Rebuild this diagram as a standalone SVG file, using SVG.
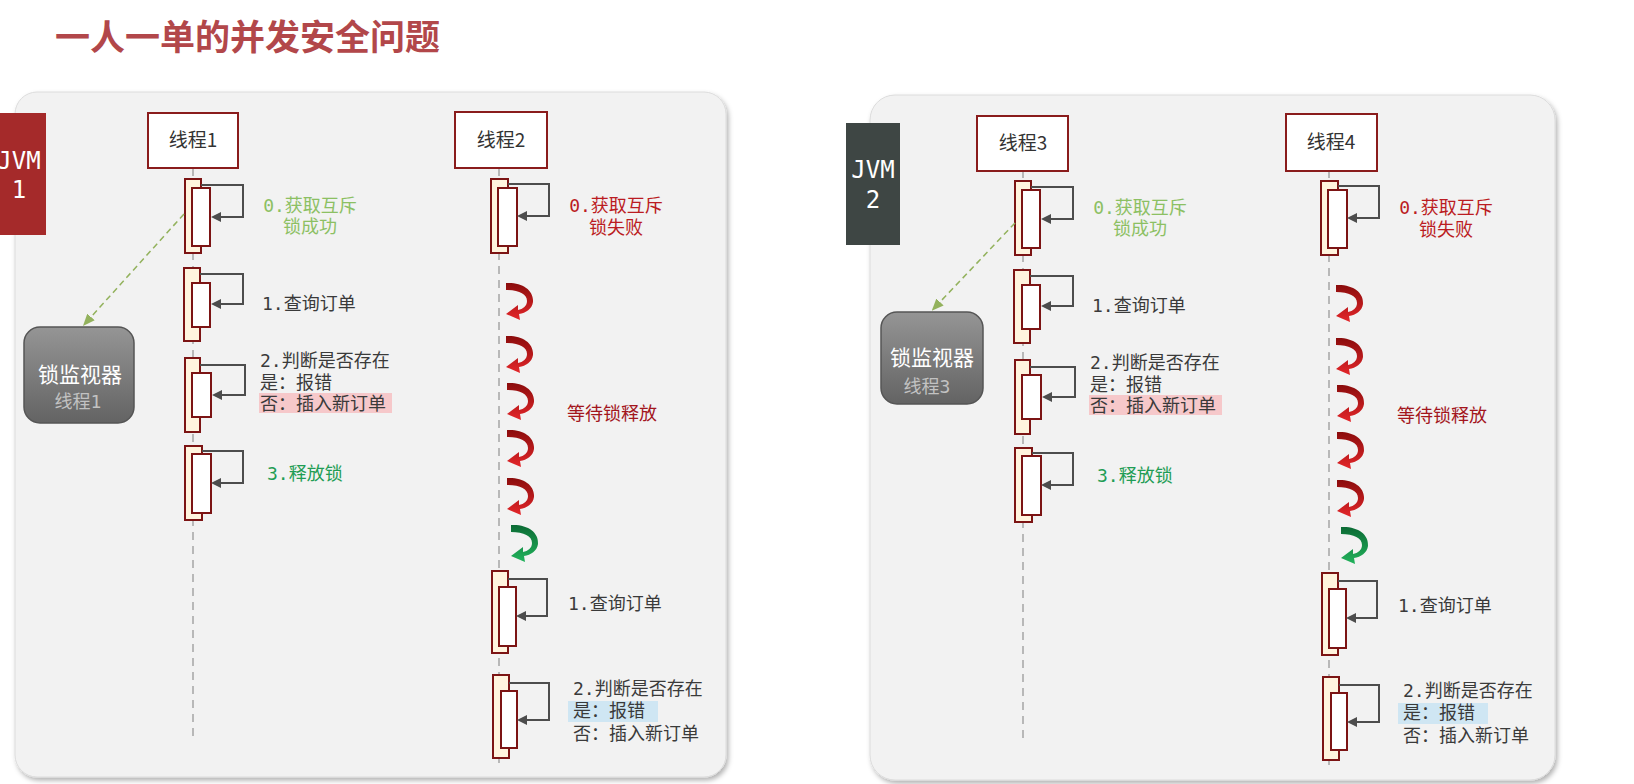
<svg xmlns="http://www.w3.org/2000/svg" width="1634" height="784" viewBox="0 0 1634 784">
<defs>
<style>
.panel{fill:#f2f2f2;stroke:#dcdcdc;stroke-width:1}
.tbox{fill:#fff;stroke:#8a1c1c;stroke-width:2}
.tname{font-family:"Noto Sans CJK SC","Noto Sans",sans-serif;font-size:19px;fill:#333;text-anchor:middle}
.life{stroke:#b8b8b8;stroke-width:2;stroke-dasharray:8 6;fill:none}
.ao{fill:#fff4de;stroke:#7c1414;stroke-width:2}
.ai{fill:#fff;stroke:#7c1414;stroke-width:2}
.self{fill:none;stroke:#4d4d4d;stroke-width:2;marker-end:url(#ah)}
.dash{fill:none;stroke:#93b25d;stroke-width:1.5;stroke-dasharray:6 4;marker-end:url(#gah)}
.lbl{font-family:"DejaVu Sans Mono","Noto Sans CJK SC",monospace;font-size:18px;fill:#3a3a3a}
.ok{fill:#8cc063}
.fail{fill:#bb1c22}
.wait{fill:#a3161d}
.rel{fill:#1f9d55}
.mid{text-anchor:middle}
.jvm{font-family:"DejaVu Sans Mono",monospace;font-size:24px;fill:#fff;text-anchor:middle}
.mon{fill:url(#gMon);stroke:#555;stroke-width:1.5}
.monT{font-family:"Noto Sans CJK SC",sans-serif;font-size:21px;fill:#fff;text-anchor:middle}
.monS{font-family:"DejaVu Sans Mono","Noto Sans CJK SC",monospace;font-size:18px;fill:#c2c2c2;text-anchor:middle}
.hlR{fill:#f6c8ca}
.hlB{fill:#cfe6f3}
.title{font-family:"Noto Sans CJK SC",sans-serif;font-size:35px;font-weight:700;fill:#b2474a}
</style>
<marker id="ah" viewBox="0 0 10 10" refX="0" refY="5" markerWidth="10" markerHeight="10" markerUnits="userSpaceOnUse" orient="auto"><path d="M0,0 L10,5 L0,10 z" fill="#4d4d4d"/></marker>
<marker id="gah" viewBox="0 0 12 10" refX="0" refY="5" markerWidth="12" markerHeight="10" markerUnits="userSpaceOnUse" orient="auto"><path d="M0,0 L12,5 L0,10 z" fill="#93b25d"/></marker>
<linearGradient id="gMon" x1="0" y1="0" x2="0" y2="1"><stop offset="0" stop-color="#959595"/><stop offset="1" stop-color="#636363"/></linearGradient>
<linearGradient id="gRed" x1="0" y1="0" x2="0" y2="1"><stop offset="0" stop-color="#8a0c0c"/><stop offset="1" stop-color="#e4262a"/></linearGradient>
<linearGradient id="gGreen" x1="0" y1="0" x2="0" y2="1"><stop offset="0" stop-color="#0b6a34"/><stop offset="1" stop-color="#22b35c"/></linearGradient>
<path id="curlR" fill="url(#gRed)" d="M0,0 C16,-1 28,7 27,19 C26,26 20,30 13,31 L14,37 L0,31 L12,22 L12,27 C17,26 21,23 21,18 C21,11 13,7 0,7 Z"/>
<path id="curlG" fill="url(#gGreen)" d="M0,0 C16,-1 28,7 27,19 C26,26 20,30 13,31 L14,37 L0,31 L12,22 L12,27 C17,26 21,23 21,18 C21,11 13,7 0,7 Z"/>
<filter id="shadow" x="-5%" y="-5%" width="110%" height="110%"><feDropShadow dx="2" dy="3" stdDeviation="2.5" flood-color="#000" flood-opacity="0.3"/></filter>
</defs>
<rect width="1634" height="784" fill="#fff"/>
<text class="title" x="55" y="50">一人一单的并发安全问题</text>

<rect id="panel-left" class="panel" x="15" y="92" width="711" height="685" rx="22" filter="url(#shadow)"/>
<rect id="panel-right" class="panel" x="870" y="95" width="685" height="685" rx="25" filter="url(#shadow)"/>

<g id="jvm1">
<rect x="-8" y="113" width="54" height="122" fill="#a52a2a"/>
<text class="jvm" x="19" y="169">JVM</text>
<text class="jvm" x="19" y="198">1</text>
</g>
<g id="jvm2">
<rect x="846" y="123" width="54" height="122" fill="#3e4644"/>
<text class="jvm" x="873" y="178">JVM</text>
<text class="jvm" x="873" y="208">2</text>
</g>

<g id="monitor1">
<rect class="mon" x="24" y="327" width="110" height="96" rx="16"/>
<text class="monT" x="80" y="382">锁监视器</text>
<text class="monS" x="78" y="408">线程1</text>
</g>
<g id="monitor2">
<rect class="mon" x="881" y="312" width="102" height="92" rx="16"/>
<text class="monT" x="932" y="365">锁监视器</text>
<text class="monS" x="927" y="393">线程3</text>
</g>

<g id="thread1">
<line class="life" x1="193" y1="168" x2="193" y2="740"/>
<rect class="tbox" x="148" y="113" width="90" height="55"/>
<text class="tname" x="193" y="147">线程1</text>
<rect class="ao" x="185" y="179" width="16" height="74"/><rect class="ai" x="192" y="188" width="18" height="58"/>
<rect class="ao" x="184" y="268" width="16" height="73"/><rect class="ai" x="192" y="283" width="18" height="44"/>
<rect class="ao" x="185" y="358" width="15" height="74"/><rect class="ai" x="192" y="373" width="19" height="44"/>
<rect class="ao" x="185" y="446" width="17" height="74"/><rect class="ai" x="192" y="454" width="19" height="59"/>
</g>
<g id="thread2">
<line class="life" x1="499" y1="168" x2="499" y2="763"/>
<rect class="tbox" x="455" y="112" width="92" height="56"/>
<text class="tname" x="501" y="147">线程2</text>
<rect class="ao" x="491" y="179" width="17" height="74"/><rect class="ai" x="498" y="188" width="19" height="58"/>
<use href="#curlR" x="506" y="283"/>
<use href="#curlR" x="506" y="336"/>
<use href="#curlR" x="507" y="383"/>
<use href="#curlR" x="507" y="430"/>
<use href="#curlR" x="507" y="478"/>
<use href="#curlG" x="511" y="525"/>
<rect class="ao" x="492" y="571" width="16" height="82"/><rect class="ai" x="499" y="587" width="17" height="59"/>
<rect class="ao" x="493" y="675" width="16" height="83"/><rect class="ai" x="501" y="691" width="16" height="57"/>
</g>

<g id="thread3" transform="translate(830,2)">
<line class="life" x1="193" y1="168" x2="193" y2="740"/>
<rect class="tbox" x="147" y="114" width="91" height="55"/>
<text class="tname" x="193" y="148">线程3</text>
<rect class="ao" x="185" y="179" width="16" height="74"/><rect class="ai" x="192" y="188" width="18" height="58"/>
<rect class="ao" x="184" y="268" width="16" height="73"/><rect class="ai" x="192" y="283" width="18" height="44"/>
<rect class="ao" x="185" y="358" width="15" height="74"/><rect class="ai" x="192" y="373" width="19" height="44"/>
<rect class="ao" x="185" y="446" width="17" height="74"/><rect class="ai" x="192" y="454" width="19" height="59"/>
</g>
<g id="thread4" transform="translate(830,2)">
<line class="life" x1="499" y1="168" x2="499" y2="763"/>
<rect class="tbox" x="456" y="112" width="91" height="57"/>
<text class="tname" x="501" y="147">线程4</text>
<rect class="ao" x="491" y="179" width="17" height="74"/><rect class="ai" x="498" y="188" width="19" height="58"/>
<use href="#curlR" x="506" y="283"/>
<use href="#curlR" x="506" y="336"/>
<use href="#curlR" x="507" y="383"/>
<use href="#curlR" x="507" y="430"/>
<use href="#curlR" x="507" y="478"/>
<use href="#curlG" x="511" y="525"/>
<rect class="ao" x="492" y="571" width="16" height="82"/><rect class="ai" x="499" y="587" width="17" height="59"/>
<rect class="ao" x="493" y="675" width="16" height="83"/><rect class="ai" x="501" y="691" width="16" height="57"/>
</g>

<g id="connectors">
<g id="conn-left">
<path class="self" d="M201,185 H243 V217 H221"/>
<path class="self" d="M200,274 H243 V304 H221"/>
<path class="self" d="M200,365 H245 V395 H222"/>
<path class="self" d="M202,451 H243 V483 H221"/>
<path class="self" d="M508,184 H549 V216 H527"/>
<path class="self" d="M508,579 H547 V616 H526"/>
<path class="self" d="M509,683 H549 V720 H527"/>
<path class="dash" d="M184,214 L91,317"/>
</g>
<g id="conn-right" transform="translate(830,2)">
<path class="self" d="M201,185 H243 V217 H221"/>
<path class="self" d="M200,274 H243 V304 H221"/>
<path class="self" d="M200,365 H245 V395 H222"/>
<path class="self" d="M202,451 H243 V483 H221"/>
<path class="self" d="M508,184 H549 V216 H527"/>
<path class="self" d="M508,579 H547 V616 H526"/>
<path class="self" d="M509,683 H549 V720 H527"/>
</g>
<path class="dash" d="M1015,223 L940,302"/>
</g>

<g id="labels-left">
<text class="lbl ok mid" x="310" y="212">0.获取互斥</text>
<text class="lbl ok mid" x="310" y="233">锁成功</text>
<text class="lbl" x="262" y="310">1.查询订单</text>
<text class="lbl" x="260" y="367">2.判断是否存在</text>
<text class="lbl" x="260" y="389">是：报错</text>
<rect class="hlR" x="259" y="393" width="133" height="20"/>
<text class="lbl" x="260" y="410">否：插入新订单</text>
<text class="lbl rel" x="267" y="480">3.释放锁</text>
<text class="lbl fail mid" x="616" y="212">0.获取互斥</text>
<text class="lbl fail mid" x="616" y="234">锁失败</text>
<text class="lbl wait" x="567" y="420">等待锁释放</text>
<text class="lbl" x="568" y="610">1.查询订单</text>
<text class="lbl" x="573" y="695">2.判断是否存在</text>
<rect class="hlB" x="568" y="701" width="90" height="21"/>
<text class="lbl" x="573" y="717">是：报错</text>
<text class="lbl" x="573" y="740">否：插入新订单</text>
</g>
<g id="labels-right" transform="translate(830,2)">
<text class="lbl ok mid" x="310" y="212">0.获取互斥</text>
<text class="lbl ok mid" x="310" y="233">锁成功</text>
<text class="lbl" x="262" y="310">1.查询订单</text>
<text class="lbl" x="260" y="367">2.判断是否存在</text>
<text class="lbl" x="260" y="389">是：报错</text>
<rect class="hlR" x="259" y="393" width="133" height="20"/>
<text class="lbl" x="260" y="410">否：插入新订单</text>
<text class="lbl rel" x="267" y="480">3.释放锁</text>
<text class="lbl fail mid" x="616" y="212">0.获取互斥</text>
<text class="lbl fail mid" x="616" y="234">锁失败</text>
<text class="lbl wait" x="567" y="420">等待锁释放</text>
<text class="lbl" x="568" y="610">1.查询订单</text>
<text class="lbl" x="573" y="695">2.判断是否存在</text>
<rect class="hlB" x="568" y="701" width="90" height="21"/>
<text class="lbl" x="573" y="717">是：报错</text>
<text class="lbl" x="573" y="740">否：插入新订单</text>
</g>
</svg>
